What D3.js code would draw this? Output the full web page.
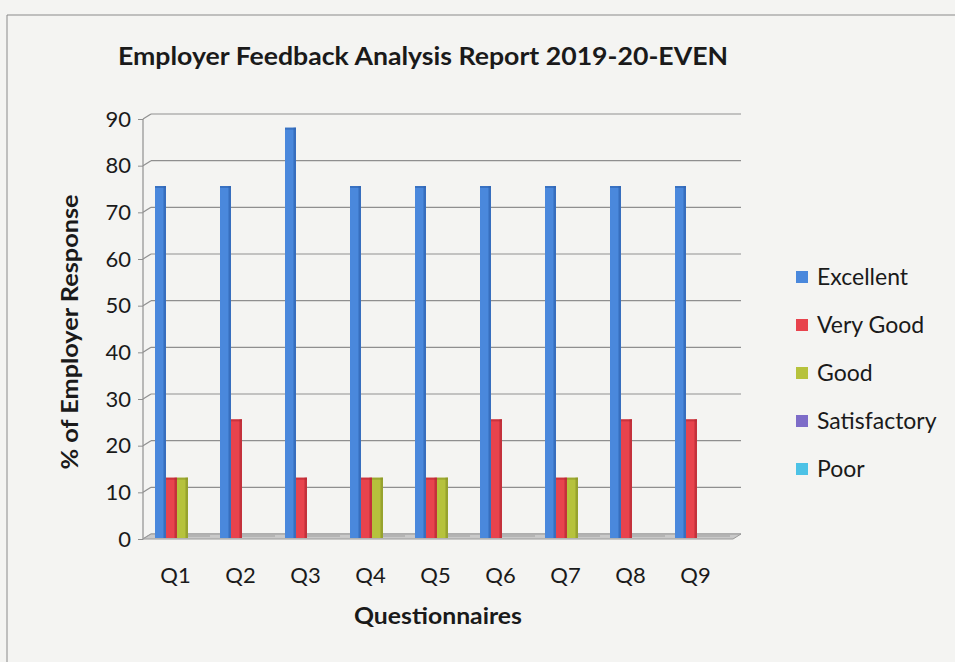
<!DOCTYPE html>
<html>
<head>
<meta charset="utf-8">
<script src="https://cdn.jsdelivr.net/npm/d3@7"></script>
<style>
  html, body { margin: 0; padding: 0; background: #f4f4f2; }
  svg { display: block; font-family: Lato, "Open Sans", sans-serif; }
</style>
</head>
<body>
<div id="chart"></div>
<script>
// chart data
const questions = ["Q1", "Q2", "Q3", "Q4", "Q5", "Q6", "Q7", "Q8", "Q9"];
const seriesNames = ["Excellent", "Very Good", "Good", "Satisfactory", "Poor"];
const excellent = [75, 75, 87.5, 75, 75, 75, 75, 75, 75];
const veryGood = [12.5, 25, 12.5, 12.5, 12.5, 25, 12.5, 25, 25];
const good = [12.5, 0, 0, 12.5, 12.5, 0, 12.5, 0, 0];
const satisfactory = [0, 0, 0, 0, 0, 0, 0, 0, 0];
const poor = [0, 0, 0, 0, 0, 0, 0, 0, 0];
const yTicks = [0, 10, 20, 30, 40, 50, 60, 70, 80, 90];

const seriesValues = [excellent, veryGood, good, satisfactory, poor];
const colors = ["#4a88dc", "#e8434d", "#b6c23c", "#7d6cc8", "#4cc2e6"];
const darker = ["#2f64b0", "#b52a33", "#8a9628", "#5a4aa0", "#2a97ba"];

const width = 955, height = 662;
const depthX = 8, depthY = -5; // fake 3D wall offset
const barLift = 3; // bars sit halfway into the floor depth

const svg = d3.select("#chart").append("svg")
  .attr("width", width)
  .attr("height", height);

// outer frame
svg.append("path")
  .attr("d", "M7,662 L7,15 L955,15")
  .attr("fill", "none")
  .attr("stroke", "#8a8a8a")
  .attr("stroke-width", 1);

// scales
const y = d3.scaleLinear().domain([0, 90]).range([539, 119]);
const x0 = d3.scaleBand().domain(questions).range([143, 728]).padding(0);
const x1 = d3.scaleBand().domain(seriesNames).range([12, 67]).padding(0);

const plot = svg.append("g");

// back wall gridlines
yTicks.forEach(t => {
  const yy = y(t);
  plot.append("line")
    .attr("x1", 143 + depthX).attr("x2", 728 + depthX + 5)
    .attr("y1", yy + depthY).attr("y2", yy + depthY)
    .attr("stroke", "#8f8f8f").attr("stroke-width", 1.2);
  // side wall diagonal
  plot.append("line")
    .attr("x1", 143).attr("x2", 143 + depthX)
    .attr("y1", yy).attr("y2", yy + depthY)
    .attr("stroke", "#8f8f8f").attr("stroke-width", 1.2);
});

// left wall vertical line
plot.append("line")
  .attr("x1", 143).attr("x2", 143)
  .attr("y1", y(0)).attr("y2", y(90))
  .attr("stroke", "#8f8f8f").attr("stroke-width", 1.2);

// floor
const fx0 = 143, fx1 = 733, fy = y(0);
plot.append("path")
  .attr("d", `M${fx0},${fy} L${fx1},${fy} L${fx1 + depthX},${fy + depthY} L${fx0 + depthX},${fy + depthY} Z`)
  .attr("fill", "#c9c9c9")
  .attr("stroke", "#9a9a9a")
  .attr("stroke-width", 1);

// y axis ticks and labels
const yAxis = d3.axisLeft(y).tickValues(yTicks).tickSize(5).tickPadding(7);
const yg = svg.append("g").attr("transform", "translate(143,0)").call(yAxis);
yg.select(".domain").remove();
yg.selectAll(".tick line").attr("stroke", "#8f8f8f");
yg.selectAll(".tick text")
  .attr("font-size", 22)
  .attr("font-family", "Lato, sans-serif")
  .attr("fill", "#1a1a1a");

// bars
const groups = plot.selectAll(".qgroup")
  .data(questions)
  .enter().append("g")
  .attr("class", "qgroup")
  .attr("transform", d => `translate(${x0(d)},0)`);

seriesNames.forEach((name, si) => {
  groups.each(function (q, qi) {
    const v = seriesValues[si][qi];
    const g = d3.select(this);
    const bx = x1(name);
    const bw = x1.bandwidth();
    const top = y(v) - barLift;
    const bottom = y(0) - 1;
    if (v <= 0) {
      // flat zero bar lying on the floor
      g.append("rect")
        .attr("x", bx).attr("y", bottom - 3)
        .attr("width", bw).attr("height", 2)
        .attr("fill", "#b4b4b4");
      return;
    }
    g.append("rect")
      .attr("x", bx).attr("y", top)
      .attr("width", bw).attr("height", bottom - top)
      .attr("fill", colors[si]);
    // shaded right edge
    g.append("rect")
      .attr("x", bx + bw - 2.5).attr("y", top)
      .attr("width", 2.5).attr("height", bottom - top)
      .attr("fill", darker[si]).attr("opacity", 0.7);
    // top cap
    g.append("rect")
      .attr("x", bx).attr("y", top)
      .attr("width", bw).attr("height", 2)
      .attr("fill", darker[si]).attr("opacity", 0.6);
  });
});

// x axis labels
const xAxis = d3.axisBottom(x0).tickSize(0).tickPadding(0);
const xg = svg.append("g").attr("transform", `translate(0,576)`).call(xAxis);
xg.select(".domain").remove();
xg.selectAll(".tick text")
  .attr("font-size", 22)
  .attr("font-family", "Lato, sans-serif")
  .attr("fill", "#1a1a1a")
  .attr("dy", "0.32em");

// title
svg.append("text")
  .attr("x", 423).attr("y", 65)
  .attr("text-anchor", "middle")
  .attr("font-size", 24)
  .attr("font-weight", "bold")
  .attr("fill", "#1a1a1a")
  .attr("textLength", 610)
  .attr("lengthAdjust", "spacingAndGlyphs")
  .text("Employer Feedback Analysis Report 2019-20-EVEN");

// axis titles
svg.append("text")
  .attr("x", 438).attr("y", 624)
  .attr("text-anchor", "middle")
  .attr("font-size", 22)
  .attr("font-weight", "bold")
  .attr("fill", "#1a1a1a")
  .attr("textLength", 168)
  .attr("lengthAdjust", "spacingAndGlyphs")
  .text("Questionnaires");

svg.append("text")
  .attr("transform", "translate(78,332) rotate(-90)")
  .attr("text-anchor", "middle")
  .attr("font-size", 23)
  .attr("font-weight", "bold")
  .attr("fill", "#1a1a1a")
  .attr("textLength", 275)
  .attr("lengthAdjust", "spacingAndGlyphs")
  .text("% of Employer Response");

// legend
const legend = svg.append("g").attr("transform", "translate(796,277)");
seriesNames.forEach((name, i) => {
  const row = legend.append("g").attr("transform", `translate(0,${i * 48})`);
  row.append("rect")
    .attr("x", 0).attr("y", -6)
    .attr("width", 12).attr("height", 12)
    .attr("fill", colors[i]);
  row.append("text")
    .attr("x", 21).attr("y", 0)
    .attr("dy", "0.35em")
    .attr("font-size", 23)
    .attr("fill", "#1a1a1a")
    .text(name);
});
</script>
</body>
</html>
